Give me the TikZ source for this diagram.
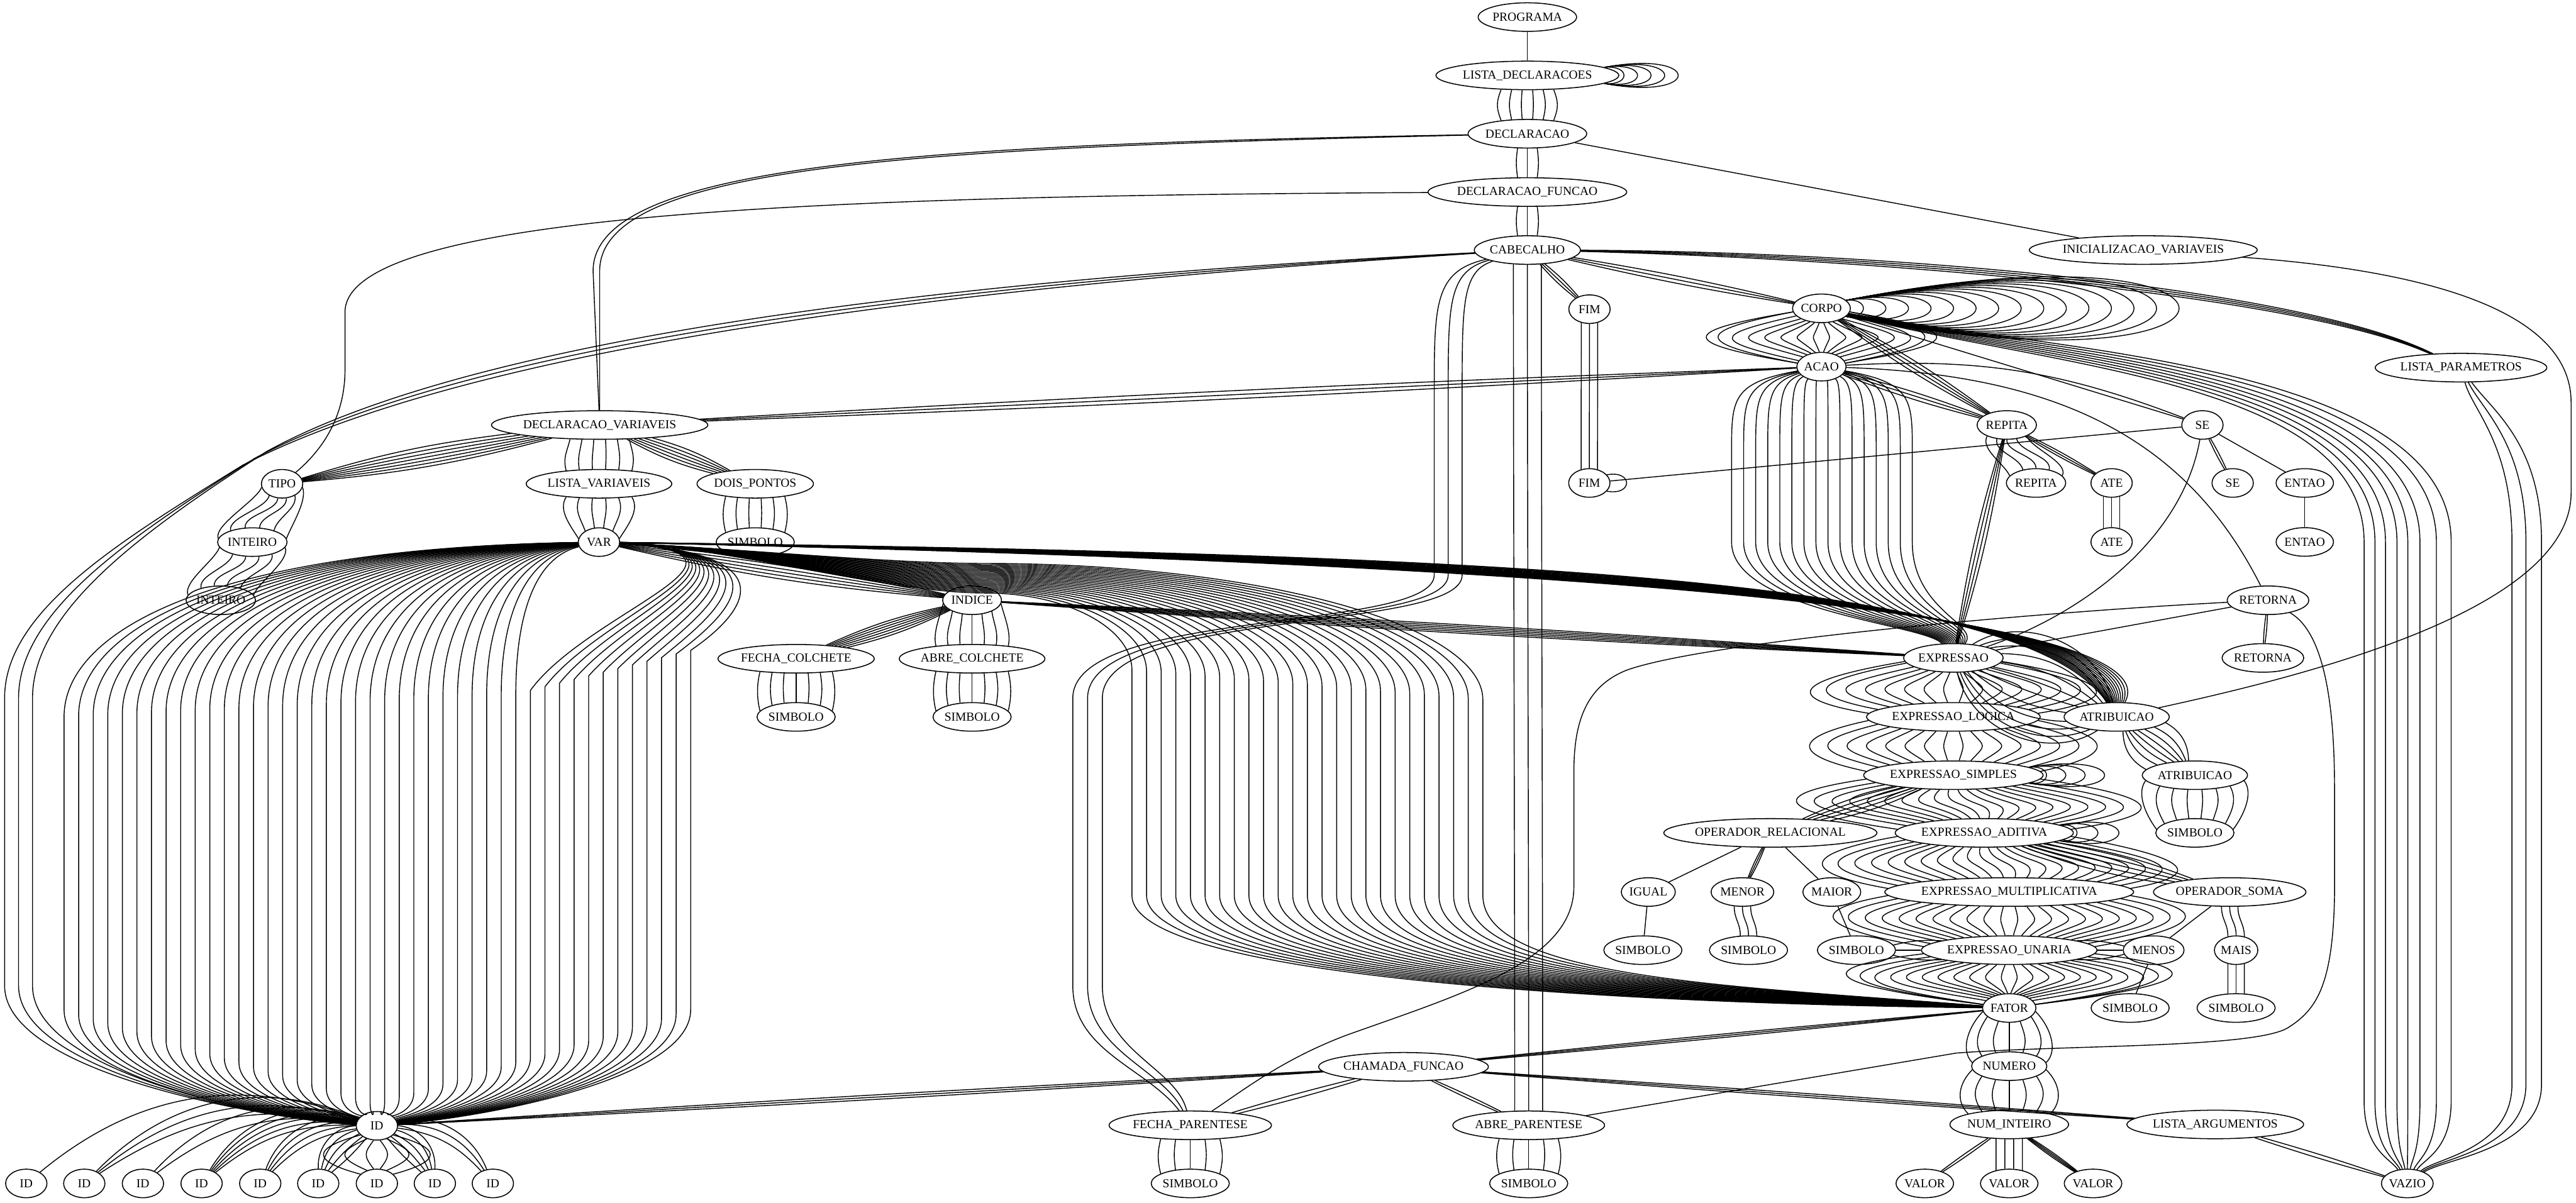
\documentclass[tikz,border=0pt]{standalone}
\usepackage{fontspec}
\setmainfont{Liberation Serif}
\usetikzlibrary{calc,shapes.geometric}
\newlength\ndw
\newcommand\nfont{\fontsize{5.75}{6}\selectfont}
\def\unitpt{0.769362}
\tikzset{
  nd/.style={draw, ellipse, inner xsep=0pt, inner ysep=0pt, minimum height=0.47cm, font=\nfont, line width=0.45pt},
  ed/.style={line width=0.42pt}
}
\newcommand\gnode[3]{\settowidth\ndw{\nfont #3}%
  \node[nd, minimum width={max(0.68cm,1.284*(\ndw+0.26cm))}] (#1) at (#2) {#3};}
% vertical lens of n curves from A (above) to B (below)
\newcommand\vlens[7]{%
  \foreach \k in {1,...,#3}{%
    \pgfmathsetmacro\vlT{-1+2*(\k-1)/(#3-1)}%
    \draw[ed] let \p1=(#1.center), \p2=(#1.east), \p3=(#1.south),
                  \p4=(#2.center), \p5=(#2.east), \p6=(#2.north),
                  \n1={max(-0.97,min(0.97,\vlT*#4*\unitpt/(\x2-\x1)))},
                  \n2={max(-0.97,min(0.97,\vlT*#5*\unitpt/(\x5-\x4)))} in
      ({\x1+\n1*(\x2-\x1)},{\y1-(\y1-\y3)*sqrt(1-\n1*\n1)})
      .. controls +({\vlT*#6},{-#7}) and +({\vlT*#6},{#7}) ..
      ({\x4+\n2*(\x5-\x4)},{\y4+(\y6-\y4)*sqrt(1-\n2*\n2)});
  }}
\newcommand\mbundle[5]{%
  \ifnum#3=1 \draw[ed] (#1) to[bend left=#4] (#2);%
  \else\foreach \k in {1,...,#3}{%
    \pgfmathsetmacro\mbA{#4-#5+2*#5*(\k-1)/(#3-1)}%
    \draw[ed] (#1) to[bend left=\mbA] (#2);}\fi}
\newcommand\selfloops[7]{%
  \foreach \k in {1,...,#2}{%
    \pgfmathsetmacro\slW{#3+#4*(\k-1)}\pgfmathsetmacro\slH{#5+#6*(\k-1)}%
    \draw[ed] (#1.#7) .. controls +(\slW,\slH) and +(\slW,-\slH) .. (#1.-#7);}}
\begin{document}
\begin{tikzpicture}[x=0.02704cm, y=0.02704cm]
\fill[white] (0,0) rectangle (1568,-732);
\useasboundingbox (0,0) rectangle (1568,-732);
% ---------------- nodes
\gnode{nprog}{929.7,-10.4}{PROGRAMA}
\gnode{nld}{929.7,-45.9}{LISTA\_DECLARACOES}
\gnode{ndecl}{929.7,-81.4}{DECLARACAO}
\gnode{ndf}{929.7,-116.9}{DECLARACAO\_FUNCAO}
\gnode{ncab}{929.7,-152.2}{CABECALHO}
\gnode{niv}{1304.6,-152.2}{INICIALIZACAO\_VARIAVEIS}
\gnode{nfima}{967.5,-188.2}{FIM}
\gnode{ncorpo}{1108.7,-187.7}{CORPO}
\gnode{nlp}{1498,-223.8}{LISTA\_PARAMETROS}
\gnode{nacao}{1108.7,-223.2}{ACAO}
\gnode{ndv}{365,-258.7}{DECLARACAO\_VARIAVEIS}
\gnode{nrepa}{1221.5,-258.7}{REPITA}
\gnode{nsea}{1340.6,-258.7}{SE}
\gnode{ntipo}{171.7,-294.5}{TIPO}
\gnode{nlv}{364.6,-294.5}{LISTA\_VARIAVEIS}
\gnode{ndp}{459.7,-294.5}{DOIS\_PONTOS}
\gnode{nfimb}{967.4,-294}{FIM}
\gnode{nrepb}{1239.3,-294}{REPITA}
\gnode{natea}{1285.3,-294}{ATE}
\gnode{nseb}{1359,-294}{SE}
\gnode{nenta}{1402.9,-294}{ENTAO}
\gnode{ninta}{153.6,-330}{INTEIRO}
\gnode{nvar}{364.6,-330}{VAR}
\gnode{nsdp}{459.7,-330}{SIMBOLO}
\gnode{nateb}{1285.3,-329.9}{ATE}
\gnode{nentb}{1402.9,-329.9}{ENTAO}
\gnode{nintb}{134.4,-365.4}{INTEIRO}
\gnode{nind}{591.7,-365.4}{INDICE}
\gnode{nreta}{1380.5,-365.4}{RETORNA}
\gnode{nfc}{484.6,-401}{FECHA\_COLCHETE}
\gnode{nac}{591.7,-401}{ABRE\_COLCHETE}
\gnode{nexp}{1189,-400.5}{EXPRESSAO}
\gnode{nretb}{1377.4,-400.5}{RETORNA}
\gnode{nsfc}{484.6,-436.4}{SIMBOLO}
\gnode{nsac}{591.7,-436.4}{SIMBOLO}
\gnode{nel}{1189,-436.4}{EXPRESSAO\_LOGICA}
\gnode{nata}{1288.4,-436.4}{ATRIBUICAO}
\gnode{nes}{1189,-471.9}{EXPRESSAO\_SIMPLES}
\gnode{natb}{1336,-471.9}{ATRIBUICAO}
\gnode{nor}{1077.6,-507}{OPERADOR\_RELACIONAL}
\gnode{nea}{1207.8,-507}{EXPRESSAO\_ADITIVA}
\gnode{nsat}{1336,-507}{SIMBOLO}
\gnode{nig}{1003.3,-543}{IGUAL}
\gnode{nme}{1060.6,-543}{MENOR}
\gnode{nma}{1115,-543}{MAIOR}
\gnode{nem}{1223,-543}{EXPRESSAO\_MULTIPLICATIVA}
\gnode{nos}{1357.2,-543}{OPERADOR\_SOMA}
\gnode{nsig}{1000,-578.4}{SIMBOLO}
\gnode{nsme}{1064.3,-578.4}{SIMBOLO}
\gnode{nsma}{1130,-578.4}{SIMBOLO}
\gnode{neu}{1223,-578.4}{EXPRESSAO\_UNARIA}
\gnode{nmn}{1310.9,-578.4}{MENOS}
\gnode{nmais}{1361.1,-578.4}{MAIS}
\gnode{nfat}{1223,-613.6}{FATOR}
\gnode{nsmn}{1296.6,-613.6}{SIMBOLO}
\gnode{nsmais}{1361.1,-613.6}{SIMBOLO}
\gnode{ncf}{854.3,-649.4}{CHAMADA\_FUNCAO}
\gnode{nnum}{1223,-649}{NUMERO}
\gnode{nid}{229.4,-685.3}{ID}
\gnode{nfp}{724.5,-685}{FECHA\_PARENTESE}
\gnode{nap}{930.5,-685}{ABRE\_PARENTESE}
\gnode{nni}{1223,-684.5}{NUM\_INTEIRO}
\gnode{nla}{1348.4,-684.5}{LISTA\_ARGUMENTOS}
\foreach \xx [count=\i] in {16.0,51.3,87.0,122.7,158.4,193.7,229.4,264.7,300.0}{\gnode{nidb\i}{\xx,-720.4}{ID}}
\gnode{nsfp}{724.5,-720.4}{SIMBOLO}
\gnode{nsap}{930.5,-720.4}{SIMBOLO}
\gnode{nva}{1171.6,-720.4}{VALOR}
\gnode{nvb}{1223,-720.4}{VALOR}
\gnode{nvc}{1274,-720.4}{VALOR}
\gnode{nvaz}{1465.3,-720.4}{VAZIO}
% ---------------- edges: top spine
\draw[ed] (nprog) -- (nld);
\selfloops{nld}{5}{16}{11}{1.5}{2.4}{6}
\vlens{nld}{ndecl}{6}{16}{16}{3}{8}
\vlens{ndecl}{ndf}{3}{6}{6}{1}{8}
\vlens{ndf}{ncab}{3}{6}{6}{1}{8}
\draw[ed] (ndecl) -- (niv);
\foreach \k in {0,1}{\draw[ed] (ndecl) .. controls (560,{-88-2*\k}) and ({361+4*\k},-100) .. ({361+4*\k},-165) -- (ndv);}
\draw[ed] (ndf) .. controls (500,-119) and (210,-130) .. (210,-190) -- (210,-225) .. controls (210,-255) and (195,-275) .. (ntipo);
\foreach \k in {0,1,2}{%
  \pgfmathsetmacro\cabX{2.8+8.5*\k}%
  \draw[ed] (ncab) .. controls (620,{-172+2*\k}) and (300,{-205+3*\k}) .. ({148+7*\k},{-283+4*\k})
     .. controls ({72+7*\k},{-330+3*\k}) and (\cabX,-372) .. (\cabX,-425) -- (\cabX,-600)
     .. controls (\cabX,-655) and (170,-682) .. (nid);}
\foreach \k in {0,1,2}{%
  \pgfmathsetmacro\fxa{873+8.5*\k}\pgfmathsetmacro\fxb{653+9*\k}%
  \draw[ed] (ncab) .. controls (\fxa,-165) and (\fxa,-185) .. (\fxa,-240) -- (\fxa,-350)
     .. controls (\fxa,-385) and (\fxb,-370) .. (\fxb,-425) -- (\fxb,-600)
     .. controls (\fxb,-640) and ({\fxb+45},-650) .. (nfp);}
\vlens{ncab}{nap}{3}{8.5}{8.5}{0}{150}
\mbundle{ncab}{nfima}{3}{0}{5}
\vlens{nfima}{nfimb}{3}{5}{5}{0}{30}
\selfloops{nfimb}{1}{16}{0}{3}{0}{25}
\mbundle{ncab}{ncorpo}{3}{0}{2}
\foreach \k in {0,...,3}{\draw[ed] (ncab) .. controls (1150,{-153-1.6*\k}) and (1400,{-175-1.6*\k}) .. (nlp);}
% ---------------- CORPO / ACAO
\selfloops{ncorpo}{15}{14}{18.3}{1.5}{3.7}{18}
\vlens{ncorpo}{nacao}{16}{21}{19}{72}{12}
\mbundle{ncorpo}{nrepa}{4}{0}{4}
\draw[ed] (ncorpo) -- (nsea);
\foreach \xv [count=\k from 0] in {1439,1445.6,1452,1459,1465.6,1473,1483,1492}{%
  \draw[ed] (ncorpo) .. controls (1250,{-224+1.5*\k}) and (\xv,{-232+1.5*\k}) .. (\xv,-330) -- (\xv,-670)
     .. controls (\xv,-700) and ({1465.3+0.4*(\xv-1465.3)},-705) .. (nvaz);}
\foreach \xv [count=\k from 0] in {1529,1537.5,1547}{%
  \draw[ed] (nlp) .. controls ({1505+6*\k},-250) and (\xv,-270) .. (\xv,-330) -- (\xv,-660)
     .. controls (\xv,-700) and ({1482+3*\k},-705) .. (nvaz);}
\draw[ed] (niv) .. controls (1480,-165) and (1565,-190) .. (1565,-245) -- (1565,-300)
   .. controls (1565,-370) and (1410,-410) .. (nata);
\mbundle{nacao}{ndv}{3}{0}{0.6}
\foreach \k in {0,...,15}{%
  \pgfmathsetmacro\acX{1054+110*\k/15}%
  \draw[ed] (nacao) .. controls (\acX,-233) and (\acX,-243) .. (\acX,-275) -- (\acX,-330)
     .. controls (\acX,-372) and ({1189+0.3*(\acX-1109)},-380) .. (nexp);}
\mbundle{nacao}{nrepa}{3}{0}{3}
\draw[ed] (nacao) to[bend left=12] (nsea);
\draw[ed] (nacao) .. controls (1250,-228) and (1330,-265) .. (nreta);
\vlens{nrepa}{nrepb}{5}{12}{16}{4}{8}
\mbundle{nrepa}{natea}{3}{0}{3}
\mbundle{nrepa}{nexp}{4}{0}{4}
\vlens{natea}{nateb}{3}{5}{5}{0}{8}
\mbundle{nsea}{nseb}{2}{0}{3}
\draw[ed] (nsea) -- (nenta);
\draw[ed] (nenta) -- (nentb);
\draw[ed] (nsea) -- (nfimb);
\draw[ed] (nsea) .. controls (1328,-330) and (1265,-375) .. (nexp);
\mbundle{nreta}{nretb}{2}{0}{3}
\draw[ed] (nreta) -- (nexp);
\draw[ed] (nreta) .. controls (1250,-372) and (1040,-390) .. (990,-408) .. controls (965,-418) and (958,-440) .. (958,-470) -- (958,-540)
   .. controls (958,-585) and (890,-605) .. (820,-630) .. controls (780,-645) and (755,-665) .. (nfp);
\draw[ed] (nreta) .. controls (1415,-385) and (1421,-430) .. (1421,-480) -- (1421,-545)
   .. controls (1420,-600) and (1410,-615) .. (1392,-626) .. controls (1370,-638) and (1260,-636) .. (1191,-641) -- (nap);
% ---------------- declarations
\mbundle{ndv}{ntipo}{7}{0}{5}
\vlens{ndv}{nlv}{6}{18}{20}{2}{8}
\mbundle{ndv}{ndp}{6}{0}{7}
\vlens{ntipo}{ninta}{6}{13}{22}{3}{8}
\vlens{ninta}{nintb}{6}{20}{20}{3}{8}
\vlens{nlv}{nvar}{6}{20}{14}{5}{8}
\vlens{ndp}{nsdp}{6}{18}{18}{2}{8}
% VAR -> ID curtain
\foreach \k in {0,...,31}{%
  \pgfmathsetmacro\vx{39+8.87*\k}\pgfmathsetmacro\vyv{420+0.05*(365-\vx)}%
  \pgfmathsetmacro\vyb{672-0.3*abs(\vx-229.4)}%
  \draw[ed] (nvar) .. controls ({\vx+0.3*(350-\vx)},{-333-0.02*\vx}) and (\vx,{-\vyv+0.52*(\vyv-333)}) .. (\vx,-\vyv) -- (\vx,-\vyb)
     .. controls (\vx,{-\vyb-0.6*(685-\vyb)}) and ({229.4+0.35*(\vx-229.4)},-680) .. (nid);}
\foreach \k in {32,...,43}{%
  \pgfmathsetmacro\vx{39+8.87*\k}\pgfmathsetmacro\vyt{396+0.25*(420-\vx)}%
  \pgfmathsetmacro\vyb{672-0.3*abs(\vx-229.4)}%
  \draw[ed] (nvar) .. controls (480,-337) and ({\vx+35},-372) .. (\vx,-\vyt) -- (\vx,-\vyb)
     .. controls (\vx,{-\vyb-0.6*(685-\vyb)}) and ({229.4+0.35*(\vx-229.4)},-680) .. (nid);}
% VAR -> FATOR curtain
\foreach \k in {0,...,24}{%
  \pgfmathsetmacro\fx{689+8.9*\k}\pgfmathsetmacro\fys{361-0.75*\k}\pgfmathsetmacro\fyv{408+0.75*\k}%
  \draw[ed] (nvar) .. controls (450,-334) and (540,-\fys) .. (600,-\fys)
     .. controls ({600+0.55*(\fx-600)},-\fys) and (\fx,{-\fyv+0.55*(\fyv-\fys)}) .. (\fx,-\fyv) -- (\fx,-545)
     .. controls (\fx,{-600+0.2*\k}) and (1050,{-612+0.5*\k}) .. (nfat);}
\mbundle{nvar}{nind}{6}{0}{4}
\foreach \k in {0,...,15}{\draw[ed] (nvar) .. controls ({900+10*\k},{-337-0.5*\k}) and ({1230+6*\k},{-350-2*\k}) .. (nata);}
\mbundle{nind}{nexp}{6}{0}{0.8}
\mbundle{nind}{nfc}{7}{0}{6}
\vlens{nind}{nac}{7}{18}{22}{2}{8}
\vlens{nfc}{nsfc}{7}{22}{22}{2}{8}
\vlens{nac}{nsac}{7}{22}{22}{2}{8}
% ---------------- expressions
\vlens{nexp}{nel}{16}{33}{53}{60}{10}
\vlens{nel}{nes}{16}{53}{53}{47}{10}
\mbundle{nexp}{nata}{12}{0}{55}
\mbundle{nata}{natb}{8}{0}{30}
\vlens{natb}{nsat}{8}{30}{26}{6}{8}
\selfloops{nes}{4}{14}{15.7}{1.5}{2.8}{6}
\vlens{nes}{nea}{20}{53}{53}{68}{10}
\mbundle{nes}{nor}{5}{0}{6}
\draw[ed] (nor) -- (nig);
\mbundle{nor}{nme}{3}{0}{4}
\draw[ed] (nor) -- (nma);
\draw[ed] (nig) -- (nsig);
\vlens{nme}{nsme}{3}{5}{5}{0}{8}
\draw[ed] (nma) -- (nsma);
\selfloops{nea}{3}{14}{17}{1.5}{3.5}{6}
\vlens{nea}{nem}{22}{53}{75}{57}{10}
\mbundle{nea}{nos}{5}{0}{6}
\vlens{nos}{nmais}{3}{5}{5}{0}{8}
\draw[ed] (nos) -- (nmn);
\vlens{nmais}{nsmais}{3}{5}{5}{0}{8}
\draw[ed] (nmn) -- (nsmn);
\vlens{nem}{neu}{22}{75}{53}{57}{10}
\mbundle{neu}{nsma}{3}{0}{8}
\mbundle{neu}{nmn}{3}{0}{8}
\vlens{neu}{nfat}{22}{53}{20}{83}{10}
\mbundle{nfat}{ncf}{3}{0}{0.5}
\vlens{nfat}{nnum}{7}{20}{25}{8}{8}
\vlens{nnum}{nni}{7}{25}{25}{8}{8}
\mbundle{nni}{nva}{2}{0}{2}
\vlens{nni}{nvb}{4}{8}{8}{0}{8}
\mbundle{nni}{nvc}{4}{0}{3}
\mbundle{ncf}{nid}{3}{0}{0.4}
\mbundle{ncf}{nfp}{2}{0}{1.5}
\mbundle{ncf}{nap}{2}{0}{1.5}
\mbundle{ncf}{nla}{3}{0}{0.4}
\mbundle{nla}{nvaz}{2}{0}{1.5}
\vlens{nfp}{nsfp}{5}{18}{18}{2}{8}
\vlens{nap}{nsap}{5}{18}{18}{2}{8}
% ---------------- ID fan
\mbundle{nid}{nidb1}{1}{-30}{0}
\mbundle{nid}{nidb2}{3}{-28}{6}
\mbundle{nid}{nidb3}{2}{-28}{5}
\mbundle{nid}{nidb4}{5}{-30}{10}
\mbundle{nid}{nidb5}{4}{-30}{12}
\mbundle{nid}{nidb6}{5}{-20}{25}
\vlens{nid}{nidb7}{6}{10}{10}{30}{8}
\mbundle{nid}{nidb8}{5}{20}{25}
\mbundle{nid}{nidb9}{3}{30}{10}
\end{tikzpicture}
\end{document}
